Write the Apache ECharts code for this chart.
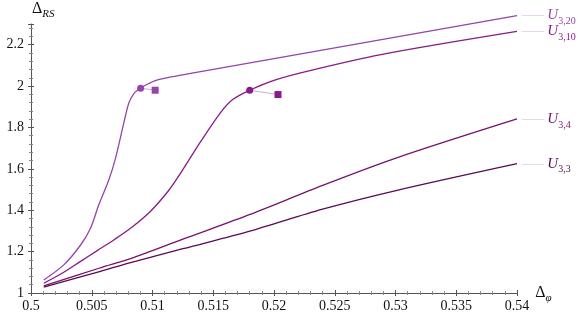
<!DOCTYPE html>
<html lang="en">
<head>
    <meta charset="UTF-8">
    <title>Delta RS vs Delta phi</title>
    <script src="https://cdn.jsdelivr.net/npm/echarts@6/dist/echarts.min.js"></script>
    <style type="text/css">
        *{ padding: 0; margin: 0; border: 0; }
        #main{ width: 581px; height: 318px; }
    </style>
</head>
<body>
<div id="main"></div>
<script>
    // curves: [delta_phi, delta_RS]
    var u320 = [[0.50105,1.063],[0.5027,1.136],[0.50408,1.232],[0.5049,1.313],[0.50558,1.426],[0.50641,1.547],
        [0.50696,1.652],[0.50764,1.822],[0.50806,1.919],[0.5085,1.966],[0.50902,1.99],[0.5096,2.01],
        [0.5103,2.028],[0.5115,2.044],[0.51314,2.061],[0.54,2.341]];
    var u310 = [[0.50105,1.047],[0.5027,1.10],[0.50408,1.153],[0.50545,1.205],[0.5069,1.26],[0.5083,1.318],
        [0.5098,1.393],[0.5113,1.493],[0.5123,1.578],[0.514,1.735],[0.5156,1.872],[0.5166,1.935],[0.518,1.98],
        [0.5197,2.022],[0.5222,2.064],[0.5288,2.152],[0.54,2.264]];
    var u34 = [[0.50105,1.034],[0.50572,1.122],[0.5082,1.166],[0.5125,1.26],[0.51809,1.381],[0.524,1.52],
        [0.53004,1.652],[0.54,1.841]];
    var u33 = [[0.50105,1.028],[0.50572,1.105],[0.5082,1.147],[0.5125,1.214],[0.51809,1.30],[0.524,1.405],
        [0.53004,1.495],[0.54,1.625]];
    // dot on the curve and the square next to it
    var mark20 = [[0.50902,1.99],[0.51022,1.98]];
    var mark10 = [[0.518,1.98],[0.52033,1.959]];

    var names = ['3,20', '3,10', '3,4', '3,3'];
    var colors = ['#9444ac', '#8a1a88', '#76126c', '#5a0a55'];

    var serif = '"Liberation Serif", "DejaVu Serif", serif';

    function curve(data, i) {
        return {
            type: 'line', data: data, showSymbol: false, symbol: 'none',
            smooth: 0.3, clip: false,
            lineStyle: { color: colors[i], width: 1.3 },
            endLabel: {
                show: true, distance: 5,
                formatter: '{l|——} {u|U}{s|' + names[i] + '}',
                rich: {
                    l: { color: '#d7b7dc', fontSize: 11, fontFamily: serif },
                    u: { color: colors[i], fontSize: 15, fontStyle: 'italic', fontFamily: serif, lineHeight: 22 },
                    s: { color: colors[i], fontSize: 10, fontFamily: serif, verticalAlign: 'bottom', lineHeight: 12 }
                }
            }
        };
    }

    function marker(data, i) {
        return {
            type: 'line', data: [
                { value: data[0], symbol: 'circle', symbolSize: 7 },
                { value: data[1], symbol: 'rect', symbolSize: 7 }
            ],
            showSymbol: true, clip: false,
            lineStyle: { color: '#cfa6d4', width: 1 },
            itemStyle: { color: colors[i] }
        };
    }

    var axisCol = '#555';
    var chart = echarts.init(document.getElementById('main'));
    chart.setOption({
        animation: false,
        grid: { left: 31, right: 64, top: 24, bottom: 25 },
        xAxis: [{
            type: 'value', min: 0.5, max: 0.54, interval: 0.005, position: 'bottom',
            name: '{d|Δ}{s|φ}', nameLocation: 'end', nameGap: 6,
            nameTextStyle: { rich: {
                d: { fontSize: 16, fontFamily: serif, color: '#111', lineHeight: 22 },
                s: { fontSize: 11, fontFamily: serif, fontStyle: 'italic', color: '#111', verticalAlign: 'bottom', lineHeight: 12 }
            } },
            axisLine: { lineStyle: { color: axisCol, width: 1 } },
            axisTick: { length: 3, lineStyle: { color: axisCol } },
            minorTick: { show: true, splitNumber: 5, length: 2, lineStyle: { color: '#888' } },
            splitLine: { show: false },
            axisLabel: { color: '#111', fontSize: 14, fontFamily: serif, margin: 6 }
        }, {
            // second copy for the tick half above the line
            type: 'value', min: 0.5, max: 0.54, interval: 0.005, position: 'bottom',
            axisLine: { show: false },
            axisTick: { inside: true, length: 3, lineStyle: { color: axisCol } },
            minorTick: { show: true, splitNumber: 5, length: 2, lineStyle: { color: '#888' } },
            splitLine: { show: false }, axisLabel: { show: false }
        }],
        yAxis: [{
            type: 'value', min: 1, max: 2.3, interval: 0.2, position: 'left',
            name: '{d|Δ}{s|RS}', nameLocation: 'end', nameGap: 4,
            nameTextStyle: { align: 'left', padding: [0, 0, 0, 1], rich: {
                d: { fontSize: 16, fontFamily: serif, color: '#111', lineHeight: 22 },
                s: { fontSize: 11, fontFamily: serif, fontStyle: 'italic', color: '#111', verticalAlign: 'bottom', lineHeight: 12 }
            } },
            axisLine: { lineStyle: { color: axisCol, width: 1 } },
            axisTick: { length: 3, lineStyle: { color: axisCol } },
            minorTick: { show: true, splitNumber: 5, length: 2, lineStyle: { color: '#888' } },
            splitLine: { show: false },
            axisLabel: { color: '#111', fontSize: 14, fontFamily: serif, margin: 7, showMaxLabel: false }
        }, {
            type: 'value', min: 1, max: 2.3, interval: 0.2, position: 'left',
            axisLine: { show: false },
            axisTick: { inside: true, length: 3, lineStyle: { color: axisCol } },
            minorTick: { show: true, splitNumber: 5, length: 2, lineStyle: { color: '#888' } },
            splitLine: { show: false }, axisLabel: { show: false }
        }],
        series: [
            curve(u320, 0), curve(u310, 1), curve(u34, 2), curve(u33, 3),
            marker(mark20, 0), marker(mark10, 1)
        ]
    });
</script>
</body>
</html>
